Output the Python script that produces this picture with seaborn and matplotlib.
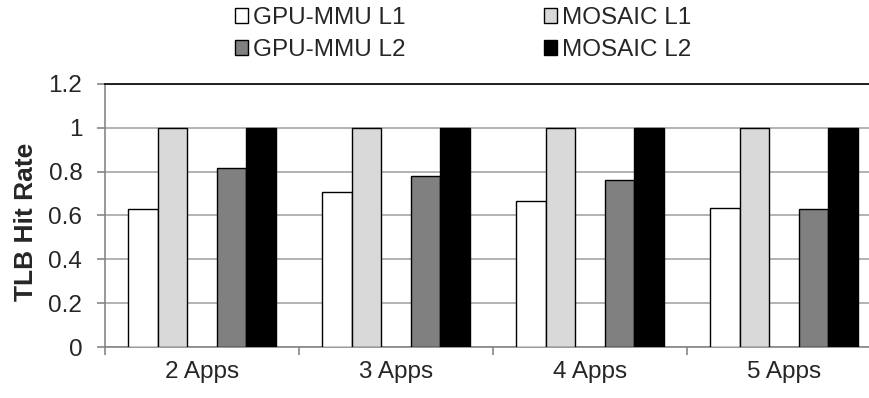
import numpy as np
import pandas as pd
import matplotlib
matplotlib.use('Agg')
import matplotlib.pyplot as plt
from matplotlib.patches import Patch
import seaborn as sns

# chart values
apps = ['2 Apps', '3 Apps', '4 Apps', '5 Apps']
gpu_mmu_l1 = [0.63, 0.705, 0.665, 0.632]
mosaic_l1 = [1.0, 1.0, 1.0, 1.0]
gpu_mmu_l2 = [0.817, 0.78, 0.763, 0.629]
mosaic_l2 = [1.0, 1.0, 1.0, 1.0]
series = ['GPU-MMU L1', 'MOSAIC L1', 'GPU-MMU L2', 'MOSAIC L2']
colors = ['#ffffff', '#d9d9d9', '#808080', '#000000']

# build long-form table for seaborn
df = pd.DataFrame({
    'apps': apps * 4,
    'series': np.repeat(series, len(apps)),
    'hit_rate': gpu_mmu_l1 + mosaic_l1 + gpu_mmu_l2 + mosaic_l2,
})

sns.set_style('white')
plt.rcParams['font.family'] = ['Liberation Sans', 'DejaVu Sans']
fs = 17.5

fig = plt.figure(figsize=(8.7, 3.98), dpi=100)
ax = fig.add_axes([0.1207, 0.1281, 0.8793, 0.6609])

# an empty hue level leaves the gap between the L1 and L2 pairs
hue_order = ['GPU-MMU L1', 'MOSAIC L1', ' ', 'GPU-MMU L2', 'MOSAIC L2']
palette = {'GPU-MMU L1': colors[0], 'MOSAIC L1': colors[1], ' ': 'white',
           'GPU-MMU L2': colors[2], 'MOSAIC L2': colors[3]}
sns.barplot(data=df, x='apps', y='hit_rate', hue='series', hue_order=hue_order,
            order=apps, palette=palette, width=0.76, edgecolor='black',
            linewidth=1, saturation=1, legend=False, ax=ax, zorder=3)

ax.set_ylim(0, 1.2)
ax.set_yticks(np.arange(0, 1.21, 0.2))
ax.set_yticklabels(['0', '0.2', '0.4', '0.6', '0.8', '1', '1.2'])
ax.set_xlim(-0.5, 3.443)
ax.yaxis.grid(True, color='#a6a6a6', linewidth=1.2, zorder=0)
ax.set_axisbelow(True)

# spines like the excel style
ax.spines['right'].set_visible(False)
ax.spines['top'].set_color('black')
ax.spines['top'].set_linewidth(1.2)
ax.spines['left'].set_color('#868686')
ax.spines['bottom'].set_color('#868686')
ax.spines['left'].set_linewidth(1.2)
ax.spines['bottom'].set_linewidth(1.2)

ax.tick_params(axis='y', which='major', left=True, length=5.8, width=1.2,
               color='#868686', labelsize=fs, pad=10.5)
ax.tick_params(axis='x', which='major', bottom=False, length=0,
               labelsize=fs, pad=10)
ax.set_xticks([-0.5, 0.5, 1.5, 2.5], minor=True)
ax.tick_params(axis='x', which='minor', bottom=True, length=6, width=1.2,
               color='#868686')

ax.set_xlabel('')
ax.set_ylabel('TLB Hit Rate', fontsize=19, fontweight='bold')
ax.yaxis.set_label_coords(-0.088, 0.477)

# legend with small square handles, filled column by column
order = [0, 2, 1, 3]
handles = [Patch(facecolor=colors[i], edgecolor='black', linewidth=1) for i in order]
labels = [series[i] for i in order]
fig.legend(handles, labels, ncol=2, loc='upper left',
           bbox_to_anchor=(235 / 870, 1 - 7 / 398), frameon=False, fontsize=fs,
           borderpad=0, borderaxespad=0, handlelength=0.535, handleheight=0.535,
           handletextpad=0.2, columnspacing=5.7, labelspacing=0.42)

fig.savefig('out.png', dpi=100)
